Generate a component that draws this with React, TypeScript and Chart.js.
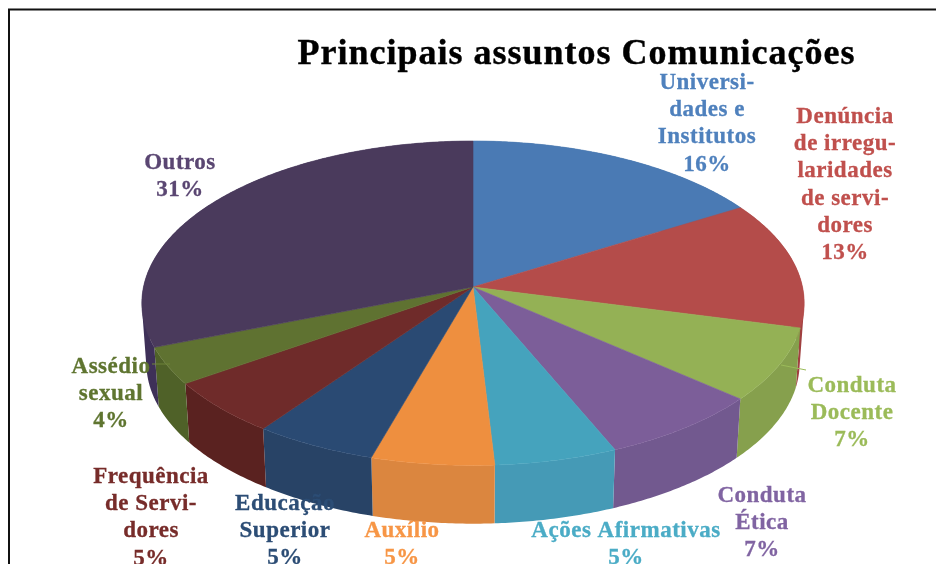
import React, { useEffect, useRef } from "react";
import { Chart, registerables } from "chart.js";

Chart.register(...registerables);

const titleText = "Principais assuntos Comunicações";
const categories = [
  "Universidades e Institutos",
  "Denúncia de irregularidades de servidores",
  "Conduta Docente",
  "Conduta Ética",
  "Ações Afirmativas",
  "Auxílio",
  "Educação Superior",
  "Frequência de Servidores",
  "Assédio sexual",
  "Outros",
];
const values = [16.3, 12.7, 7.3, 7.3, 5.45, 5.45, 5.45, 5.45, 3.7, 30.9];
const labelLines = [
  ["Universi-", "dades e", "Institutos"],
  ["Denúncia", "de irregu-", "laridades", "de servi-", "dores"],
  ["Conduta", "Docente"],
  ["Conduta", "Ética"],
  ["Ações Afirmativas"],
  ["Auxílio"],
  ["Educação", "Superior"],
  ["Frequência", "de Servi-", "dores"],
  ["Assédio", "sexual"],
  ["Outros"],
];
const faceColors = ["#4a7ab4", "#b44c4a", "#94b155", "#7c5e99", "#45a3bd", "#ee8f3f", "#2a4a73", "#6f2b2a", "#5f7231", "#4a3a5c"];
const wallColors = ["#3f6899", "#a04040", "#86a04d", "#72598f", "#459ab6", "#db863f", "#284366", "#5a2220", "#4f6128", "#3e3058"];
const textColors = ["#4f81bd", "#c0504d", "#9bbb59", "#8064a2", "#4bacc6", "#f79646", "#2c4d75", "#772c2a", "#5f7530", "#5a4672"];
// label block anchor: centre x, first baseline y
const labelAnchors = [
  [707, 89], [845, 123], [852, 392], [762, 502], [626, 537],
  [402, 537], [285, 510], [151, 483], [111, 373], [180, 169],
];

const SERIF = '"Liberation Serif", serif';
const CX = 473, CY = 287, KP = -0.1;
const top3d = { a: 160.6, b: 329.5, dy: 0 };
const bot3d = { a: 159, b: 325, dy: 60 };

function rim(th: number, g: { a: number; b: number; dy: number }) {
  const u = Math.sin(th), v = -Math.cos(th);
  const w = 1 + KP * v;
  return [CX + (g.b * u) / w, CY + g.dy + (g.a * v) / w];
}

function sampleAngles(s: number, e: number) {
  const n = Math.max(2, Math.ceil((e - s) / 0.01));
  const out: number[] = [];
  for (let i = 0; i <= n; i++) out.push(s + ((e - s) * i) / n);
  return out;
}

function signedArea(p: number[][]) {
  let sum = 0;
  p.forEach((q, i) => {
    const r = p[(i + 1) % p.length];
    sum += q[0] * r[1] - r[0] * q[1];
  });
  return sum;
}

const pie3d = {
  id: "pie3d",
  beforeDatasetsDraw(chart: any) {
    const ctx = chart.ctx;
    ctx.save();
    ctx.fillStyle = "#ffffff";
    ctx.fillRect(0, 0, chart.width, chart.height);
    ctx.strokeStyle = "#111111";
    ctx.lineWidth = 2;
    ctx.beginPath();
    ctx.moveTo(9, chart.height + 2);
    ctx.lineTo(9, 9.5);
    ctx.lineTo(chart.width + 2, 9.5);
    ctx.stroke();
    ctx.restore();
  },
  beforeDatasetDraw(chart: any) {
    const ctx = chart.ctx;
    const arcs = chart.getDatasetMeta(0).data;
    ctx.save();
    // walls: same-wound quads in one path, so no seams and no cancelling
    arcs.forEach((arc: any, i: number) => {
      const s = arc.startAngle + Math.PI / 2, e = arc.endAngle + Math.PI / 2;
      const ths = sampleAngles(s, e);
      ctx.beginPath();
      for (let k = 0; k < ths.length - 1; k++) {
        const quad = [rim(ths[k], top3d), rim(ths[k + 1], top3d), rim(ths[k + 1], bot3d), rim(ths[k], bot3d)];
        if (signedArea(quad) < 0) quad.reverse();
        quad.forEach((p, j) => (j ? ctx.lineTo(p[0], p[1]) : ctx.moveTo(p[0], p[1])));
        ctx.closePath();
      }
      ctx.fillStyle = wallColors[i];
      ctx.fill("nonzero");
    });
    // top faces
    arcs.forEach((arc: any, i: number) => {
      const s = arc.startAngle + Math.PI / 2, e = arc.endAngle + Math.PI / 2;
      ctx.beginPath();
      ctx.moveTo(CX, CY);
      sampleAngles(s, e).forEach((t) => {
        const [x, y] = rim(t, top3d);
        ctx.lineTo(x, y);
      });
      ctx.closePath();
      ctx.fillStyle = faceColors[i];
      ctx.strokeStyle = faceColors[i];
      ctx.lineWidth = 0.6;
      ctx.fill();
      ctx.stroke();
    });
    ctx.restore();
    return false;
  },
  afterDatasetsDraw(chart: any) {
    const ctx = chart.ctx;
    ctx.save();
    // leader lines
    ctx.lineWidth = 1;
    ctx.strokeStyle = "#9bbb59";
    ctx.beginPath();
    ctx.moveTo(781, 365);
    ctx.lineTo(806, 370);
    ctx.stroke();
    ctx.strokeStyle = "#6f8438";
    ctx.beginPath();
    ctx.moveTo(152, 364);
    ctx.lineTo(170, 364);
    ctx.stroke();
    // title
    ctx.textAlign = "center";
    ctx.textBaseline = "alphabetic";
    ctx.fillStyle = "#000000";
    ctx.strokeStyle = "#000000";
    ctx.lineWidth = 0.4;
    ctx.font = `bold 36px ${SERIF}`;
    ctx.letterSpacing = "1px";
    ctx.fillText(chart.options.plugins.title.text, 576.5, 64);
    ctx.strokeText(chart.options.plugins.title.text, 576.5, 64);
    // labels sit over the pie
    const total = values.reduce((a, b) => a + b, 0);
    ctx.font = `bold 23px ${SERIF}`;
    ctx.letterSpacing = "0.5px";
    ctx.lineWidth = 0.3;
    labelLines.forEach((lines, i) => {
      const [x, y] = labelAnchors[i];
      ctx.fillStyle = textColors[i];
      ctx.strokeStyle = textColors[i];
      [...lines, `${Math.round((values[i] / total) * 100)}%`].forEach((t, j) => {
        ctx.fillText(t, x, y + j * 27.2);
        ctx.strokeText(t, x, y + j * 27.2);
      });
    });
    ctx.restore();
  },
};

export default function App() {
  const ref = useRef<HTMLCanvasElement>(null);
  useEffect(() => {
    document.body.style.margin = "0";
    const chart = new Chart(ref.current as HTMLCanvasElement, {
      type: "pie",
      data: {
        labels: categories,
        datasets: [{ data: values, backgroundColor: faceColors, borderWidth: 0 }],
      },
      options: {
        animation: false,
        responsive: false,
        devicePixelRatio: 1,
        plugins: {
          legend: { display: false },
          tooltip: { enabled: false },
          title: { display: false, text: titleText },
        },
      },
      plugins: [pie3d as any],
    });
    return () => chart.destroy();
  }, []);
  return <canvas ref={ref} width={936} height={564} style={{ display: "block", width: 936, height: 564 }} />;
}
